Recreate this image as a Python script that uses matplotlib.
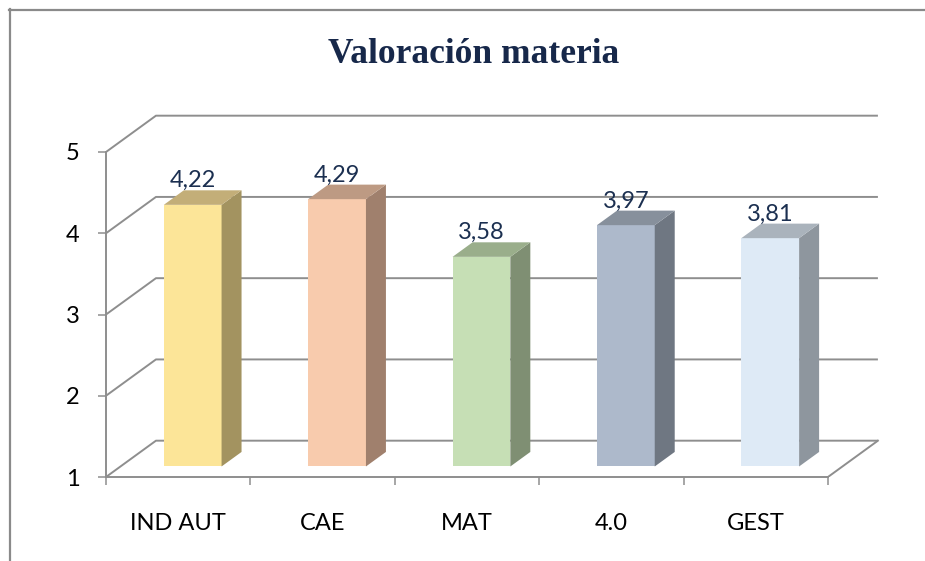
import numpy as np
import matplotlib
matplotlib.use('Agg')
import matplotlib.pyplot as plt
from matplotlib.lines import Line2D

plt.rcParams['font.family'] = ['Lato', 'DejaVu Sans']

# data
categories = ['IND AUT', 'CAE', 'MAT', '4.0', 'GEST']
values = [4.22, 4.29, 3.58, 3.97, 3.81]
value_labels = ['4,22', '4,29', '3,58', '3,97', '3,81']

front_colors = ['#FCE598', '#F8CBAD', '#C6DFB5', '#ADB9CB', '#DEEAF6']
side_colors = ['#A39360', '#A0806D', '#7F8F73', '#6F7782', '#8E969E']
top_colors = ['#C3AE78', '#BD9A83', '#9AAE8B', '#87909C', '#AAB3BC']

# pseudo-3d geometry (data units)
depth_x, depth_y = 0.346, 0.447      # floor depth vector
bar_front = 0.29                     # depth fraction where bars start
bar_depth = 0.40                     # depth fraction of bars
bar_width = 0.40
grid_color = '#8E8E8E'

fig = plt.figure(figsize=(9.25, 5.61), dpi=100)
ax = fig.add_axes([106 / 925, 84 / 561, 794 / 925, 377 / 561])
ax.set_xlim(-0.5, 4.999)
ax.set_ylim(1, 1 + 377 / 81.25)

n = len(categories)
x = np.arange(n)

# back wall / side wall gridlines
for v in range(1, 6):
    ax.plot([-0.5, -0.5 + depth_x, n - 0.5 + depth_x],
            [v, v + depth_y, v + depth_y],
            color=grid_color, lw=1.4, zorder=1, solid_capstyle='butt')
ax.plot([n - 0.5, n - 0.5 + depth_x], [1, 1 + depth_y],
        color=grid_color, lw=1.4, zorder=1)

# bars
ox = bar_front * depth_x
oy = bar_front * depth_y
bx = bar_depth * depth_x
by = bar_depth * depth_y
for i, v in enumerate(values):
    xl = x[i] + ox - bar_width / 2
    xr = x[i] + ox + bar_width / 2
    b = 1 + oy
    t = v + oy
    ax.bar(x[i] + ox, v - 1, width=bar_width, bottom=b,
           color=front_colors[i], zorder=3, linewidth=0)
    ax.fill([xr, xr, xr + bx, xr + bx], [b, t, t + by, b + by],
            color=side_colors[i], zorder=3, linewidth=0)
    ax.fill([xl, xr, xr + bx, xl + bx], [t, t, t + by, t + by],
            color=top_colors[i], zorder=3, linewidth=0)
    ax.text(x[i] + ox, t + by + 0.04, value_labels[i], ha='center',
            va='baseline', fontsize=17, color='#1B2F50', zorder=4)

# axes styling
for s in ['top', 'right']:
    ax.spines[s].set_visible(False)
for s in ['left', 'bottom']:
    ax.spines[s].set_color(grid_color)
    ax.spines[s].set_linewidth(1.4)
ax.spines['left'].set_bounds(1, 5)
ax.spines['bottom'].set_bounds(-0.5, n - 0.5)

ax.set_yticks(range(1, 6))
ax.tick_params(axis='y', direction='out', length=6, width=1.1,
               color=grid_color, labelsize=17, pad=13, labelcolor='black')
ax.set_xticks(np.arange(-0.5, n, 1.0))
ax.set_xticklabels([])
ax.tick_params(axis='x', which='major', direction='out', length=6,
               width=1.1, color=grid_color)
ax.set_xticks(x, minor=True)
ax.set_xticklabels(categories, minor=True)
ax.tick_params(axis='x', which='minor', length=0, labelsize=17, pad=26,
               labelcolor='black')

fig.text(473.5 / 925, 1 - 63 / 561, 'Valoración materia', ha='center',
         va='baseline', fontsize=25.5, fontweight='bold',
         family='Liberation Serif', color='#17284A')

# chart border
fig.add_artist(Line2D([9 / 925, 1], [1 - 10 / 561, 1 - 10 / 561],
                      color='#8A8A8A', lw=1.6, transform=fig.transFigure))
fig.add_artist(Line2D([10 / 925, 10 / 925], [0, 1 - 9 / 561],
                      color='#8A8A8A', lw=1.6, transform=fig.transFigure))

fig.savefig('out.png', dpi=100)
